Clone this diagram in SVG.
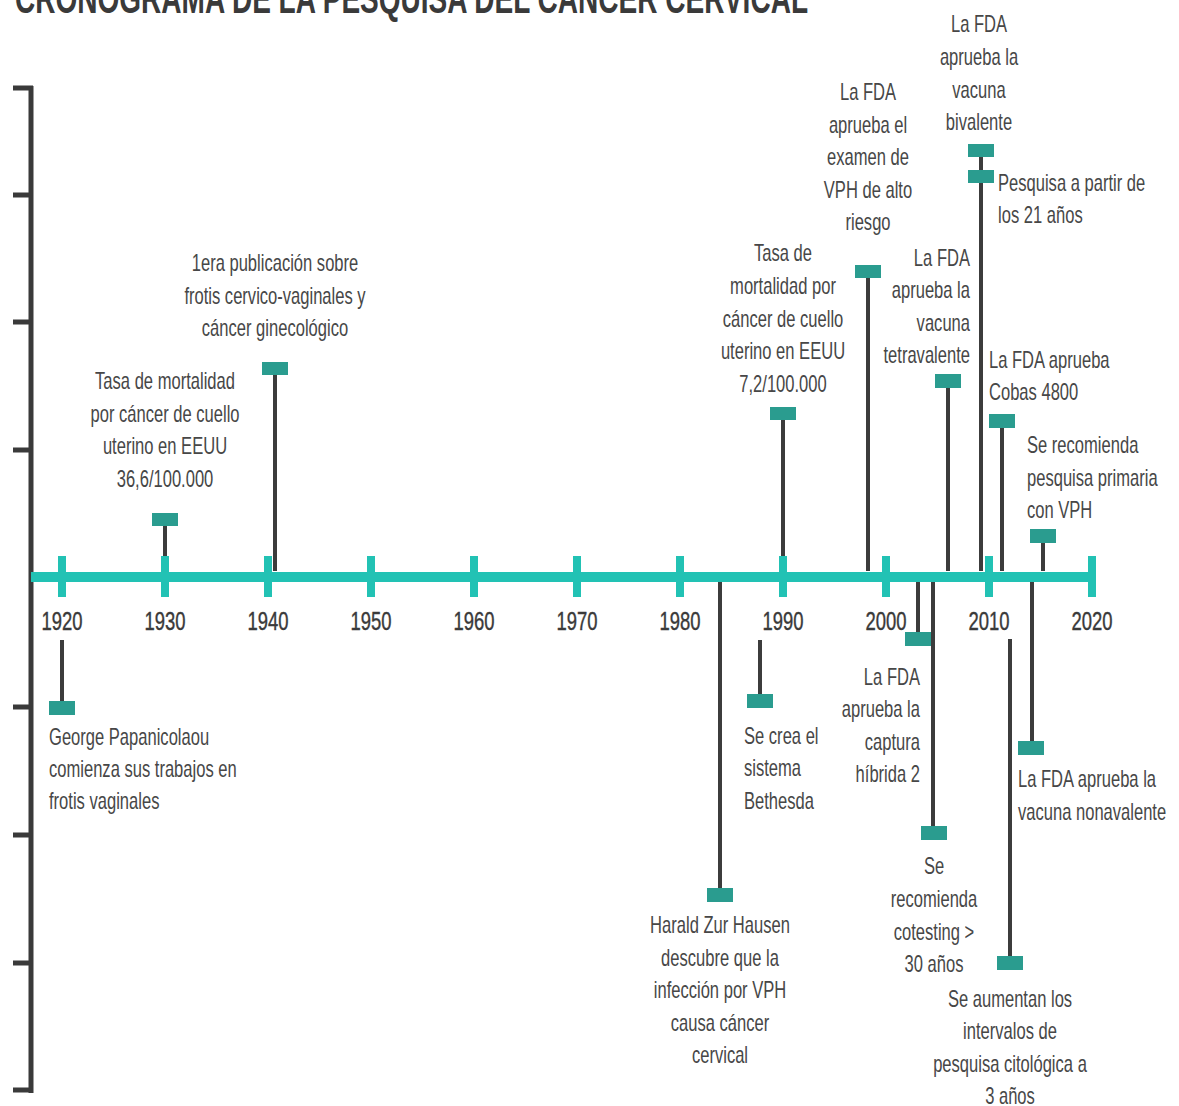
<svg xmlns="http://www.w3.org/2000/svg" width="1179" height="1106" viewBox="0 0 1179 1106">
  <style>
    .title { font-family: "Liberation Sans", Arial, sans-serif; font-weight: bold; font-size: 42px; fill: #3a3a3a; }
    .lbl { font-family: "Liberation Sans", Arial, sans-serif; font-size: 23px; fill: #474747; }
    .yr { font-family: "Liberation Sans", Arial, sans-serif; font-size: 26px; fill: #3a3a3a; stroke: #3a3a3a; stroke-width: 0.4; text-anchor: middle; }
    .mid { text-anchor: middle; }
    .end { text-anchor: end; }
    .stem { stroke: #3c3c3c; stroke-width: 4; fill: none; }
    .box { fill: #2a9c8f; }
    .axis { stroke: #3a3a3a; stroke-width: 5; fill: none; }
    .main { stroke: #22c2b4; stroke-width: 10; fill: none; }
    .tick { stroke: #22c2b4; stroke-width: 8; fill: none; }
  </style>
  <rect width="1179" height="1106" fill="#ffffff"/>

  <text class="title" x="15" y="13" textLength="793" lengthAdjust="spacingAndGlyphs">CRONOGRAMA DE LA PESQUISA DEL CÁNCER CERVICAL</text>

  <!-- vertical scale on the left -->
  <g id="left-scale">
    <path class="axis" d="M31 86 V1093"/>
    <path class="axis" d="M13 88 H33 M13 195 H31 M13 322 H31 M13 450 H31 M13 707 H31 M13 835 H31 M13 963 H31 M13 1090 H33"/>
  </g>

  <!-- stems joining each event marker to the timeline -->
  <g id="connectors">
    <path class="stem" d="M165 571 V519"/>
    <path class="stem" d="M275 571 V368"/>
    <path class="stem" d="M783 571 V413"/>
    <path class="stem" d="M868 571 V271"/>
    <path class="stem" d="M948 571 V381"/>
    <path class="stem" d="M981 571 V150"/>
    <path class="stem" d="M1002 571 V421"/>
    <path class="stem" d="M1043 571 V536"/>
    <path class="stem" d="M62 640 V708"/>
    <path class="stem" d="M720 581 V895"/>
    <path class="stem" d="M760 640 V701"/>
    <path class="stem" d="M918 581 V639"/>
    <path class="stem" d="M933 581 V833"/>
    <path class="stem" d="M1010 639 V963"/>
    <path class="stem" d="M1032 581 V748"/>
  </g>

  <!-- main timeline with decade ticks -->
  <g id="timeline">
    <path class="main" d="M31 577 H1093"/>
    <path class="tick" d="M62 556 V597 M165 556 V597 M268 556 V597 M371 556 V597 M474 556 V597 M577 556 V597 M680 556 V597 M783 556 V597 M886 556 V597 M989 556 V597 M1092 556 V597"/>
    <g transform="translate(62 0) scale(0.71 1)"><text class="yr" x="0" y="630">1920</text></g>
    <g transform="translate(165 0) scale(0.71 1)"><text class="yr" x="0" y="630">1930</text></g>
    <g transform="translate(268 0) scale(0.71 1)"><text class="yr" x="0" y="630">1940</text></g>
    <g transform="translate(371 0) scale(0.71 1)"><text class="yr" x="0" y="630">1950</text></g>
    <g transform="translate(474 0) scale(0.71 1)"><text class="yr" x="0" y="630">1960</text></g>
    <g transform="translate(577 0) scale(0.71 1)"><text class="yr" x="0" y="630">1970</text></g>
    <g transform="translate(680 0) scale(0.71 1)"><text class="yr" x="0" y="630">1980</text></g>
    <g transform="translate(783 0) scale(0.71 1)"><text class="yr" x="0" y="630">1990</text></g>
    <g transform="translate(886 0) scale(0.71 1)"><text class="yr" x="0" y="630">2000</text></g>
    <g transform="translate(989 0) scale(0.71 1)"><text class="yr" x="0" y="630">2010</text></g>
    <g transform="translate(1092 0) scale(0.71 1)"><text class="yr" x="0" y="630">2020</text></g>
  </g>

  <!-- events above the line -->
  <g id="ev-1930-mortalidad">
    <rect class="box" x="152" y="513" width="26" height="13"/>
    <g transform="translate(165 0) scale(0.72 1)">
      <text class="lbl mid"><tspan x="0" y="389">Tasa de mortalidad</tspan><tspan x="0" y="422">por cáncer de cuello</tspan><tspan x="0" y="454">uterino en EEUU</tspan><tspan x="0" y="487">36,6/100.000</tspan></text>
    </g>
  </g>
  <g id="ev-1941-publicacion">
    <rect class="box" x="262" y="362" width="26" height="13"/>
    <g transform="translate(275 0) scale(0.72 1)">
      <text class="lbl mid"><tspan x="0" y="271">1era publicación sobre</tspan><tspan x="0" y="304">frotis cervico-vaginales y</tspan><tspan x="0" y="336">cáncer ginecológico</tspan></text>
    </g>
  </g>
  <g id="ev-1990-mortalidad">
    <rect class="box" x="770" y="407" width="26" height="13"/>
    <g transform="translate(783 0) scale(0.72 1)">
      <text class="lbl mid"><tspan x="0" y="261">Tasa de</tspan><tspan x="0" y="294">mortalidad por</tspan><tspan x="0" y="327">cáncer de cuello</tspan><tspan x="0" y="359">uterino en EEUU</tspan><tspan x="0" y="392">7,2/100.000</tspan></text>
    </g>
  </g>
  <g id="ev-1998-examen-vph">
    <rect class="box" x="855" y="265" width="26" height="13"/>
    <g transform="translate(868 0) scale(0.72 1)">
      <text class="lbl mid"><tspan x="0" y="100">La FDA</tspan><tspan x="0" y="133">aprueba el</tspan><tspan x="0" y="165">examen de</tspan><tspan x="0" y="198">VPH de alto</tspan><tspan x="0" y="230">riesgo</tspan></text>
    </g>
  </g>
  <g id="ev-2006-tetravalente">
    <rect class="box" x="935" y="374" width="26" height="14"/>
    <g transform="translate(970 0) scale(0.72 1)">
      <text class="lbl end"><tspan x="0" y="266">La FDA</tspan><tspan x="0" y="298">aprueba la</tspan><tspan x="0" y="331">vacuna</tspan><tspan x="0" y="363">tetravalente</tspan></text>
    </g>
  </g>
  <g id="ev-2009-bivalente">
    <rect class="box" x="968" y="144" width="26" height="13"/>
    <g transform="translate(979 0) scale(0.72 1)">
      <text class="lbl mid"><tspan x="0" y="32">La FDA</tspan><tspan x="0" y="65">aprueba la</tspan><tspan x="0" y="98">vacuna</tspan><tspan x="0" y="130">bivalente</tspan></text>
    </g>
  </g>
  <g id="ev-2009-pesquisa-21">
    <rect class="box" x="968" y="170" width="26" height="13"/>
    <g transform="translate(998 0) scale(0.72 1)">
      <text class="lbl"><tspan x="0" y="191">Pesquisa a partir de</tspan><tspan x="0" y="223">los 21 años</tspan></text>
    </g>
  </g>
  <g id="ev-2011-cobas">
    <rect class="box" x="989" y="414" width="26" height="14"/>
    <g transform="translate(989 0) scale(0.72 1)">
      <text class="lbl"><tspan x="0" y="368">La FDA aprueba</tspan><tspan x="0" y="400">Cobas 4800</tspan></text>
    </g>
  </g>
  <g id="ev-2015-pesquisa-vph">
    <rect class="box" x="1030" y="529" width="26" height="14"/>
    <g transform="translate(1027 0) scale(0.72 1)">
      <text class="lbl"><tspan x="0" y="453">Se recomienda</tspan><tspan x="0" y="486">pesquisa primaria</tspan><tspan x="0" y="518">con VPH</tspan></text>
    </g>
  </g>

  <!-- events below the line -->
  <g id="ev-1920-papanicolaou">
    <rect class="box" x="49" y="701" width="26" height="14"/>
    <g transform="translate(49 0) scale(0.72 1)">
      <text class="lbl"><tspan x="0" y="745">George Papanicolaou</tspan><tspan x="0" y="777">comienza sus trabajos en</tspan><tspan x="0" y="809">frotis vaginales</tspan></text>
    </g>
  </g>
  <g id="ev-1984-zur-hausen">
    <rect class="box" x="707" y="888" width="26" height="14"/>
    <g transform="translate(720 0) scale(0.72 1)">
      <text class="lbl mid"><tspan x="0" y="933">Harald Zur Hausen</tspan><tspan x="0" y="966">descubre que la</tspan><tspan x="0" y="998">infección por VPH</tspan><tspan x="0" y="1031">causa cáncer</tspan><tspan x="0" y="1063">cervical</tspan></text>
    </g>
  </g>
  <g id="ev-1988-bethesda">
    <rect class="box" x="747" y="694" width="26" height="14"/>
    <g transform="translate(744 0) scale(0.72 1)">
      <text class="lbl"><tspan x="0" y="744">Se crea el</tspan><tspan x="0" y="776">sistema</tspan><tspan x="0" y="809">Bethesda</tspan></text>
    </g>
  </g>
  <g id="ev-2003-captura-hibrida">
    <rect class="box" x="905" y="632" width="26" height="14"/>
    <g transform="translate(920 0) scale(0.72 1)">
      <text class="lbl end"><tspan x="0" y="685">La FDA</tspan><tspan x="0" y="717">aprueba la</tspan><tspan x="0" y="750">captura</tspan><tspan x="0" y="782">híbrida 2</tspan></text>
    </g>
  </g>
  <g id="ev-2004-cotesting">
    <rect class="box" x="921" y="826" width="26" height="14"/>
    <g transform="translate(934 0) scale(0.72 1)">
      <text class="lbl mid"><tspan x="0" y="874">Se</tspan><tspan x="0" y="907">recomienda</tspan><tspan x="0" y="940">cotesting &gt;</tspan><tspan x="0" y="972">30 años</tspan></text>
    </g>
  </g>
  <g id="ev-2012-intervalos">
    <rect class="box" x="997" y="956" width="26" height="14"/>
    <g transform="translate(1010 0) scale(0.72 1)">
      <text class="lbl mid"><tspan x="0" y="1007">Se aumentan los</tspan><tspan x="0" y="1039">intervalos de</tspan><tspan x="0" y="1072">pesquisa citológica a</tspan><tspan x="0" y="1104">3 años</tspan></text>
    </g>
  </g>
  <g id="ev-2014-nonavalente">
    <rect class="box" x="1018" y="741" width="26" height="14"/>
    <g transform="translate(1018 0) scale(0.72 1)">
      <text class="lbl"><tspan x="0" y="787">La FDA aprueba la</tspan><tspan x="0" y="820">vacuna nonavalente</tspan></text>
    </g>
  </g>
</svg>
